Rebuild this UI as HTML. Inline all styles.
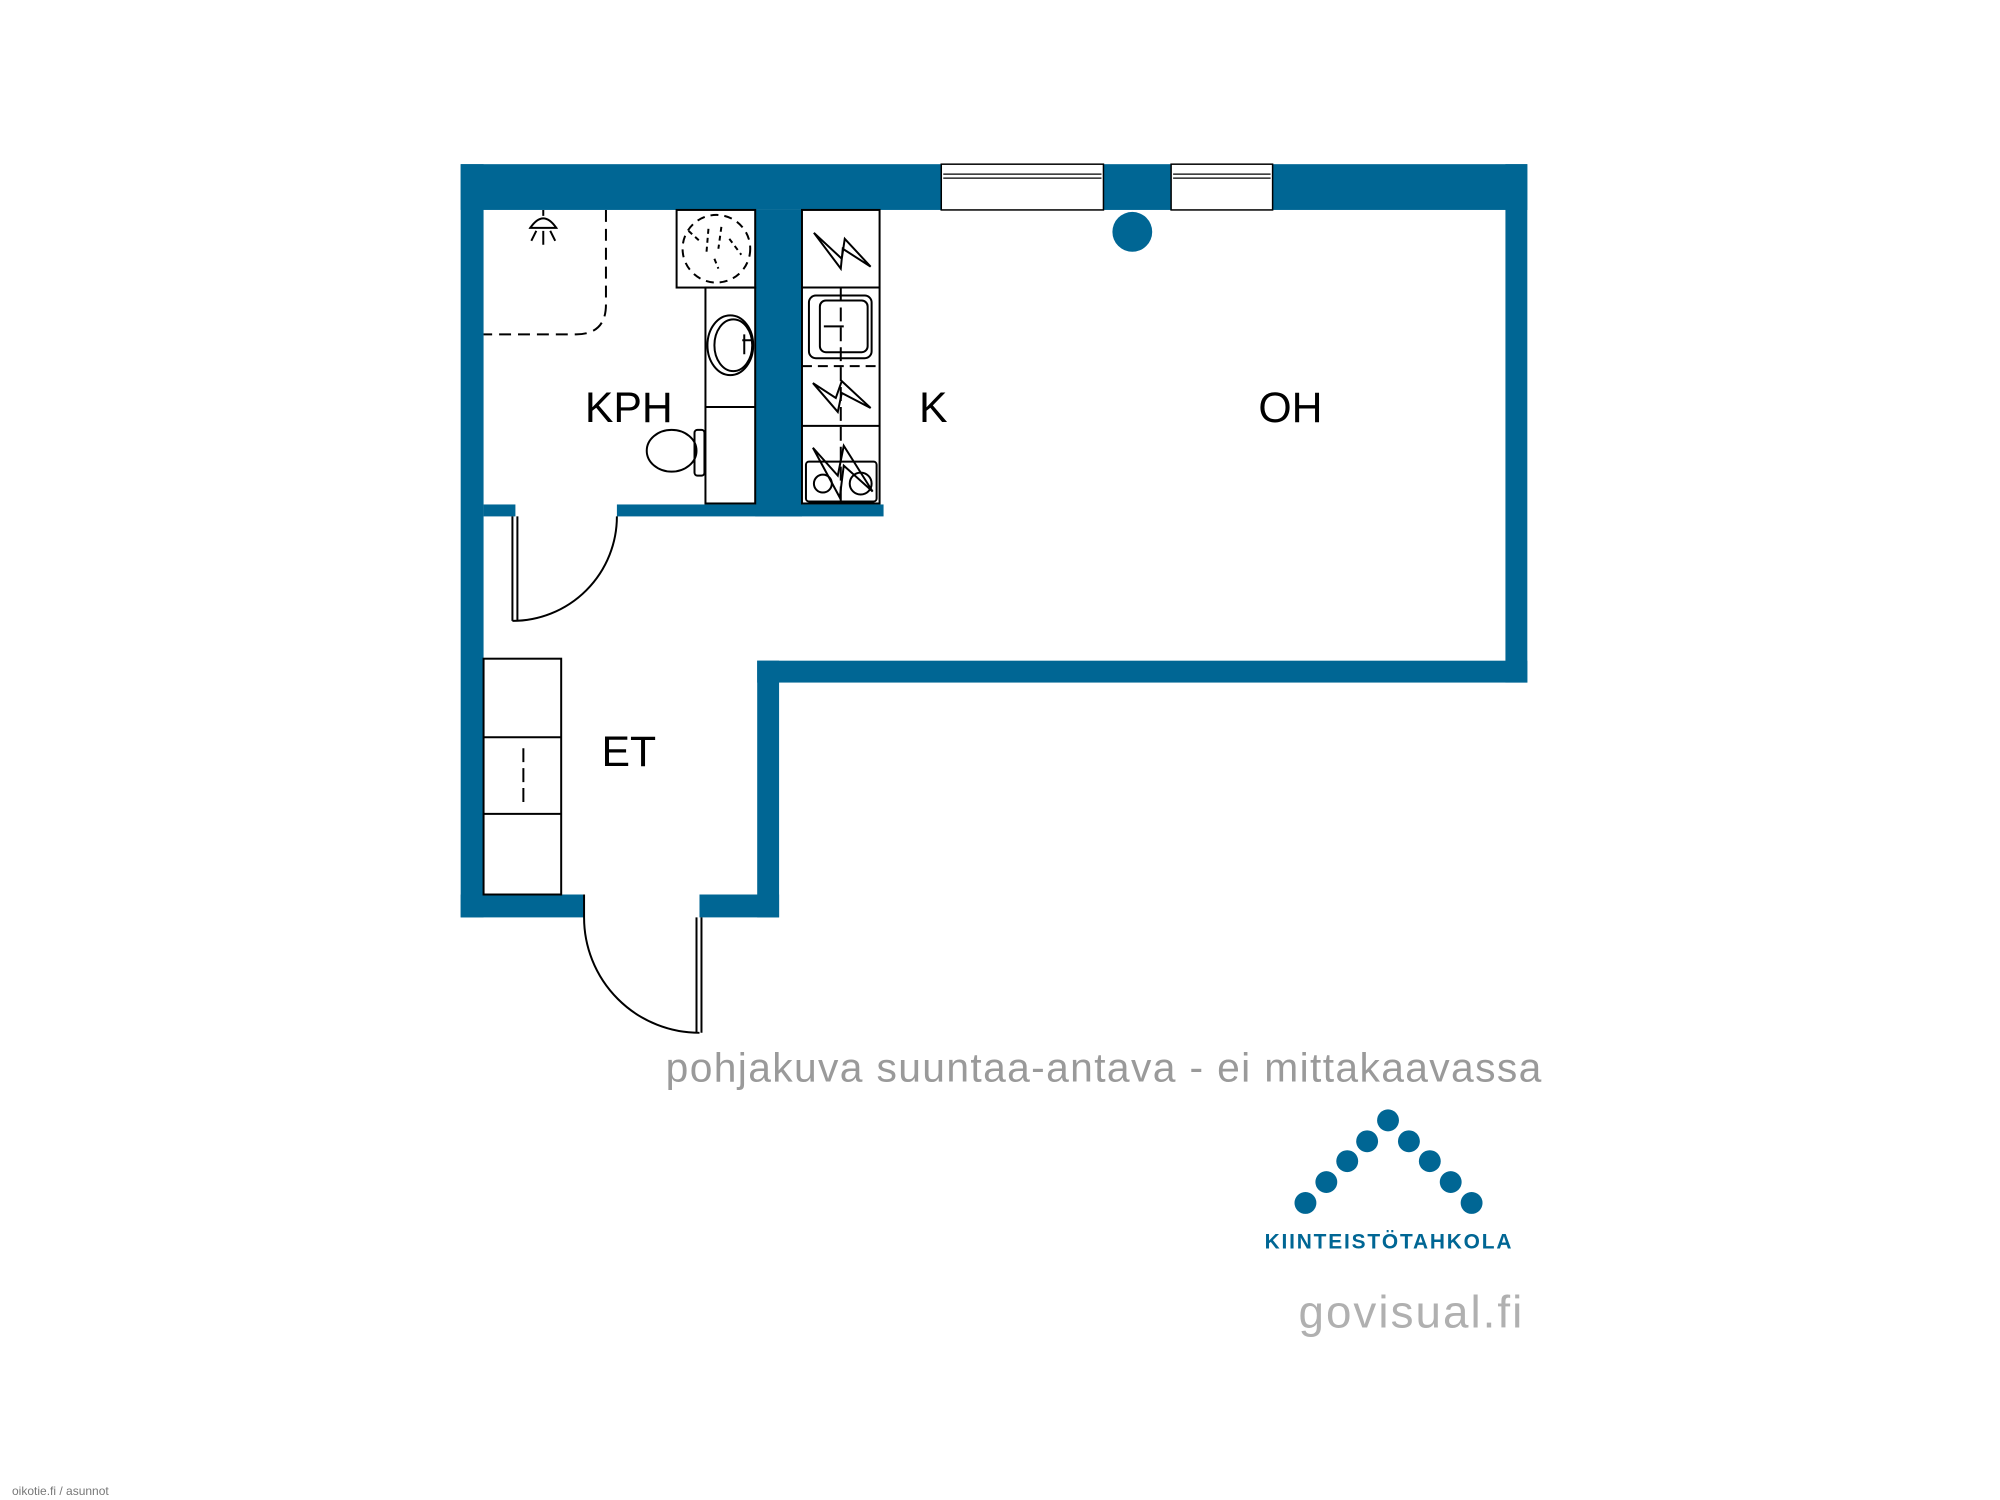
<!DOCTYPE html>
<html><head><meta charset="utf-8"><style>html,body{margin:0;padding:0;background:#fff}svg{display:block}</style></head>
<body>
<svg width="2000" height="1500" viewBox="0 0 2000 1500" xmlns="http://www.w3.org/2000/svg" font-family="Liberation Sans, Arial, sans-serif">
<rect width="2000" height="1500" fill="#fff"/>
<g transform="scale(0.995)">
<g fill="#006694">
<rect x="463" y="165" width="1072" height="46"/>
<rect x="463" y="165" width="23" height="757"/>
<rect x="1513" y="165" width="22" height="521"/>
<rect x="761" y="664" width="774" height="22"/>
<rect x="761" y="664" width="22" height="258"/>
<rect x="463" y="899" width="124" height="23"/>
<rect x="703" y="899" width="80" height="23"/>
<rect x="486" y="507" width="32" height="12"/>
<rect x="620" y="507" width="268" height="12"/>
<rect x="759" y="211" width="47" height="308"/>
<circle cx="1138" cy="233" r="20"/>
</g>
<g fill="#fff" stroke="#000" stroke-width="1.5">
<rect x="946" y="165" width="163" height="46"/>
<rect x="1177" y="165" width="102" height="46"/>
</g>
<g stroke="#000" stroke-width="1.2">
<line x1="948" y1="175" x2="1107" y2="175"/><line x1="948" y1="179" x2="1107" y2="179"/>
<line x1="1179" y1="175" x2="1277" y2="175"/><line x1="1179" y1="179" x2="1277" y2="179"/>
</g>
<g fill="none" stroke="#000" stroke-width="2">
<path d="M609 211 V306 Q609 336 579 336 H486" stroke-dasharray="12,7"/>
<path d="M533 229 Q546 210 559 229 Z M532 229 H560 M546 211 V217 M546 232 V246 M539 232 L534 242 M553 232 L558 242"/>
<rect x="680" y="211" width="79" height="78"/>
<circle cx="720" cy="250" r="34" stroke-dasharray="8,6"/>
<path d="M692 232 L705 244 M712 230 L710 254 M725 228 L722 250 M733 240 L745 256 M718 260 L722 270" stroke-dasharray="5,4"/>
<rect x="709" y="289" width="50" height="217"/>
<line x1="709" y1="409" x2="759" y2="409"/>
<ellipse cx="734" cy="347" rx="23" ry="30"/>
<ellipse cx="737" cy="347" rx="19" ry="26"/>
<path d="M746 342 H755 M748 336 V356"/>
<ellipse cx="675" cy="453" rx="25" ry="21"/>
<rect x="698" y="432" width="10" height="46" rx="3"/>
<rect x="806" y="211" width="78" height="295"/>
<line x1="806" y1="289" x2="884" y2="289"/>
<line x1="806" y1="368" x2="884" y2="368" stroke-dasharray="10,6"/>
<line x1="806" y1="428" x2="884" y2="428"/>
<line x1="845" y1="289" x2="845" y2="506" stroke-dasharray="14,6"/>
<path d="M818 234 L846 260 L849 240 L875 268 L847 250 L845 270 Z"/>
<rect x="813" y="297" width="63" height="63" rx="7"/>
<rect x="824" y="302" width="48" height="52" rx="6"/>
<path d="M828 328 H848"/>
<path d="M817 385 L840 400 L846 383 L875 410 L846 395 L842 414 Z"/>
<rect x="810" y="464" width="71" height="40" rx="3"/>
<circle cx="827" cy="486" r="9"/><circle cx="865" cy="486" r="11"/>
<path d="M817 450 L842 478 L848 448 L877 494 L848 468 L844 500 Z"/>
<rect x="486" y="662" width="78" height="237"/>
<line x1="486" y1="741" x2="564" y2="741"/>
<line x1="486" y1="818" x2="564" y2="818"/>
<line x1="526" y1="752" x2="526" y2="808" stroke-dasharray="14,6"/>
<path d="M515 519 V624 M520 519 V624"/>
<path d="M515 624 A105 105 0 0 0 620 519"/>
<path d="M700 922 V1038 M705 922 V1038"/>
<path d="M587 899 V922 A116 116 0 0 0 703 1038"/>
</g>
<g font-size="43" fill="#000" text-anchor="middle">
<text x="632" y="424">KPH</text>
<text x="938" y="424">K</text>
<text x="1297" y="424">OH</text>
<text x="632" y="770">ET</text>
</g>
<text x="1109" y="1087" font-size="41" fill="#9a9a9a" text-anchor="middle" textLength="880">pohjakuva suuntaa-antava - ei mittakaavassa</text>
<g transform="translate(7,7)">
<g fill="#006694">
<circle cx="1305" cy="1202" r="11"/><circle cx="1326" cy="1181" r="11"/><circle cx="1347" cy="1160" r="11"/><circle cx="1367" cy="1140" r="11"/><circle cx="1388" cy="1119" r="11"/><circle cx="1409" cy="1140" r="11"/><circle cx="1430" cy="1160" r="11"/><circle cx="1451" cy="1181" r="11"/><circle cx="1472" cy="1202" r="11"/>
</g>
<text x="1264" y="1248" font-size="21" font-weight="bold" fill="#006694" textLength="248">KIINTEISTÖTAHKOLA</text>
<text x="1298" y="1327" font-size="46" fill="#b0b0b0" textLength="225">govisual.fi</text>
</g>
</g>
<text x="12" y="1495" font-size="12" fill="#777">oikotie.fi / asunnot</text>
</svg>
</body></html>
